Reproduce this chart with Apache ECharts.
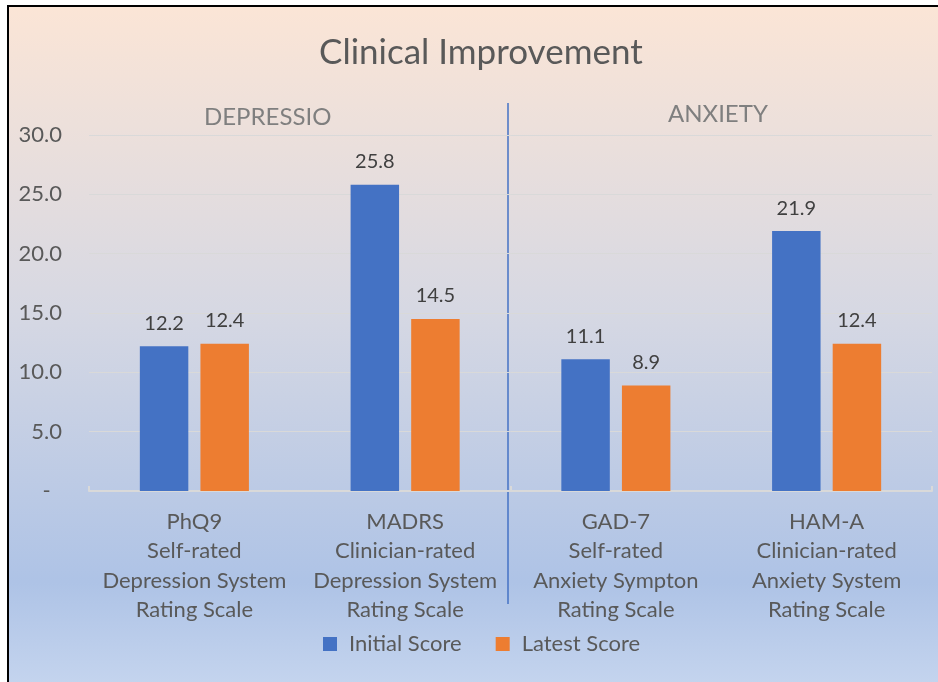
<!DOCTYPE html>
<html>
<head>
<meta charset="utf-8">
<title>Clinical Improvement</title>
<script src="https://cdn.jsdelivr.net/npm/echarts@6/dist/echarts.min.js"></script>
<style>
	html, body { margin: 0; padding: 0; background: #fff; }
	#chartBox {
		position: absolute;
		left: 7px;
		top: 5px;
		width: 931px;
		height: 677px;
		border-left: 2px solid #000;
		border-top: 2px solid #000;
	}
</style>
</head>
<body>
<div id="chartBox"></div>
<script>
	// categories (x axis, two levels written as lines)
	var categories = [
		'PhQ9\nSelf-rated\nDepression System\nRating Scale',
		'MADRS\nClinician-rated\nDepression System\nRating Scale',
		'GAD-7\nSelf-rated\nAnxiety Sympton\nRating Scale',
		'HAM-A\nClinician-rated\nAnxiety System\nRating Scale'
	];
	var initialScore = [12.2, 25.8, 11.1, 21.9];
	var latestScore = [12.4, 14.5, 8.9, 12.4];
	var yTicks = [0, 5, 10, 15, 20, 25, 30];

	var FONT = 'Lato, "Open Sans", sans-serif';
	var myChart = echarts.init(document.getElementById('chartBox'));

	var options = {
		backgroundColor: {
			type: 'linear', x: 0, y: 0, x2: 0, y2: 1,
			colorStops: [
				{ offset: 0, color: '#FBE5D6' },
				{ offset: 0.45, color: '#D6D8E3' },
				{ offset: 0.85, color: '#AEC3E6' },
				{ offset: 1, color: '#C4D4EE' }
			]
		},
		animation: false,
		textStyle: { fontFamily: FONT },
		// 标题
		title: {
			text: 'Clinical Improvement',
			left: 305,
			top: 23,
			textStyle: { fontSize: 35, fontWeight: 'normal', color: '#595959', fontFamily: FONT }
		},
		legend: {
			data: ['Initial Score', 'Latest Score'],
			bottom: 24,
			left: 309,
			icon: 'rect',
			itemWidth: 14,
			itemHeight: 14,
			itemGap: 34,
			textStyle: { fontSize: 22, color: '#595959', fontFamily: FONT, padding: [0, 0, 0, 7] }
		},
		grid: {
			left: 80,
			right: 8,
			top: 128,
			bottom: 193,
			containLabel: false
		},
		xAxis: {
			type: 'category',
			data: categories,
			axisLine: { lineStyle: { color: '#D9D9D9', width: 2 } },
			axisTick: {
				show: true,
				inside: true,
				length: 5,
				interval: function (index) { return index % 2 === 0; },
				lineStyle: { color: '#D9D9D9', width: 2 }
			},
			axisLabel: {
				interval: 0,
				margin: 16,
				fontSize: 22,
				lineHeight: 29.4,
				color: '#595959',
				fontFamily: FONT
			}
		},
		yAxis: {
			type: 'value',
			min: yTicks[0],
			max: yTicks[yTicks.length - 1],
			interval: 5,
			axisLine: { show: false },
			axisTick: { show: false },
			splitLine: { lineStyle: { color: '#D9D9D9', width: 1 } },
			axisLabel: {
				margin: 27,
				fontSize: 22,
				color: '#595959',
				fontFamily: FONT,
				formatter: function (v) { return v === 0 ? '-  ' : v.toFixed(1); }
			}
		},
		series: [{
			name: 'Initial Score',
			type: 'bar',
			barWidth: '23%',
			barGap: '25%',
			itemStyle: { color: '#4472C4' },
			label: {
				show: true,
				position: 'top',
				distance: 13,
				fontSize: 20,
				color: '#404040',
				fontFamily: FONT,
				formatter: function (p) { return p.value.toFixed(1); }
			},
			data: initialScore
		}, {
			name: 'Latest Score',
			type: 'bar',
			barWidth: '23%',
			barGap: '25%',
			itemStyle: { color: '#ED7D31' },
			label: {
				show: true,
				position: 'top',
				distance: 13,
				fontSize: 20,
				color: '#404040',
				fontFamily: FONT,
				formatter: function (p) { return p.value.toFixed(1); }
			},
			data: latestScore
		}],
		// 分组标题和分隔线
		graphic: [{
			type: 'text',
			left: 195,
			top: 98,
			style: { text: 'DEPRESSIO', fontSize: 24, fill: '#7F7F7F', fontFamily: FONT }
		}, {
			type: 'text',
			left: 659,
			top: 95,
			style: { text: 'ANXIETY', fontSize: 24, fill: '#7F7F7F', fontFamily: FONT }
		}, {
			type: 'line',
			shape: { x1: 499, y1: 96, x2: 499, y2: 597 },
			style: { stroke: '#4472C4', lineWidth: 1.5 }
		}]
	};
	myChart.setOption(options);
</script>
</body>
</html>
